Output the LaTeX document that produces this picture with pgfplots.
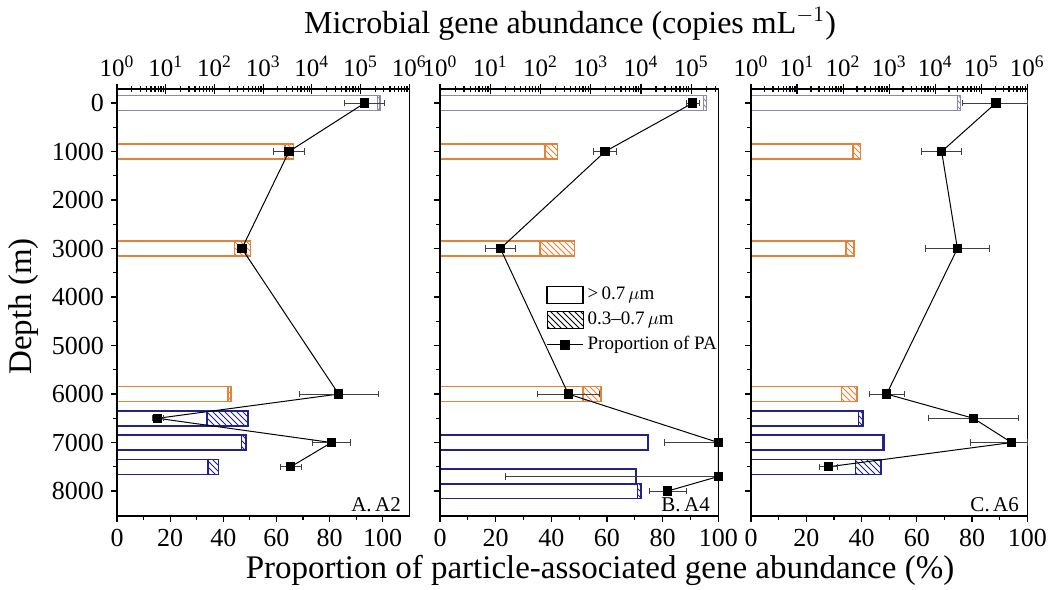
\documentclass[border=0pt]{standalone}
\usepackage{fontspec}
\setmainfont{Liberation Serif}
\usepackage{pgfplots}
\pgfplotsset{compat=1.18}
\usetikzlibrary{patterns}
\definecolor{bgray}{RGB}{140,140,160}
\definecolor{borange}{RGB}{224,132,60}
\definecolor{bnavy}{RGB}{35,35,135}

% 1 px of the reference = 0.5pt
\pgfplotsset{
  panel/.style={scale only axis, height=213.5pt, ymin=-290, ymax=8515, y dir=reverse,
    axis line style={line width=0.65pt}, every tick/.style={black, line width=0.6pt}},
  linax/.style={panel, xmin=0, xtick={0,20,...,100}, minor x tick num=1,
    ytick={0,1000,...,8000}, minor y tick num=1, xtick pos=left, ytick pos=left,
    tick align=outside, major tick length=3pt, minor tick length=2pt,
    ticklabel style={font=\fontsize{13}{15}\selectfont},
    /pgf/number format/assume math mode=true,
    /pgf/number format/set thousands separator={}, clip=false},
  logax/.style={panel, xmin=1, axis x line*=top, axis y line=none,
    tick align=center, major tick length=5pt, minor tick length=3pt,
    xtick={1,10,100,1000,10000,100000,1000000},
    xticklabels={10\textsuperscript{0},10\textsuperscript{1},10\textsuperscript{2},10\textsuperscript{3},10\textsuperscript{4},10\textsuperscript{5},10\textsuperscript{6}},
    minor xtick={2,3,4,5,6,7,8,9,
      20,30,40,50,60,70,80,90,
      200,300,400,500,600,700,800,900,
      2000,3000,4000,5000,6000,7000,8000,9000,
      2e4,3e4,4e4,5e4,6e4,7e4,8e4,9e4,
      2e5,3e5,4e5,5e5,6e5,7e5,8e5,9e5},
    ticklabel style={font=\fontsize{12.5}{14}\selectfont, inner xsep=0pt}},
  obar/.style={xbar, bar width=310, bar shift=0pt, line width=0.75pt, draw=#1, fill=white},
  hbar/.style={xbar, bar width=310, bar shift=0pt, line width=0.75pt, draw=#1, pattern=north west lines, pattern color=#1},
  pa/.style={black, line width=0.5pt, mark=square*, mark size=2.1pt,
    error bars/.cd, x dir=both, x explicit,
    error bar style={black!75, line width=0.4pt},
    error mark options={rotate=90, mark size=1.6pt, black!75, line width=0.4pt}},
}

\begin{document}
\begin{tikzpicture}
\path[use as bounding box] (0pt,0pt) rectangle (529.5pt,-294.5pt);

% ---------- A. A2 ----------
\begin{axis}[xmode=log, logax, width=146.15pt, xmax=1000000, at={(58.5pt,-258pt)}, anchor=south west]
\addplot[hbar=bgray] coordinates {(251000,0)};
\addplot[obar=bgray] coordinates {(224000,0)};
\addplot[hbar=borange] coordinates {(4169,1000) (550,3000) (219,6000)};
\addplot[obar=borange] coordinates {(2818,1000) (257,3000) (191,6000)};
\addplot[hbar=bnavy] coordinates {(490,6500) (447,7000) (120,7500)};
\addplot[obar=bnavy] coordinates {(71,6500) (363,7000) (74,7500)};
\end{axis}
\begin{axis}[linax, width=146.15pt, xmax=110, at={(58.5pt,-258pt)}, anchor=south west,
  ylabel={Depth (m)}, ylabel style={font=\fontsize{16.5}{18}\selectfont, xshift=-2pt}]
\addplot[pa] coordinates {
  (93.2,0) +- (7.5,0)
  (64.7,1000) +- (5.8,0)
  (47.0,3000) +- (1.5,0)
  (83.4,6000) +- (14.8,0)
  (15.3,6500) +- (2,0)
  (80.7,7000) +- (7,0)
  (65.4,7500) +- (4,0)
};
\node[anchor=south east, font=\fontsize{10.5}{12}\selectfont, inner sep=1pt] at (axis description cs:1,0) [xshift=-3pt,yshift=1pt] {A.\,A2};
\end{axis}

% ---------- B. A4 ----------
\begin{axis}[xmode=log, logax, width=139.15pt, xmax=347000, at={(220pt,-258pt)}, anchor=south west]
\addplot[hbar=bgray] coordinates {(204000,0)};
\addplot[obar=bgray] coordinates {(174000,0)};
\addplot[hbar=borange] coordinates {(219,1000) (479,3000) (1585,6000)};
\addplot[obar=borange] coordinates {(123,1000) (98,3000) (708,6000)};
\addplot[hbar=bnavy] coordinates {(13800,7000) (7940,7700) (10000,8000)};
\addplot[obar=bnavy] coordinates {(13800,7000) (7940,7700) (8510,8000)};
\end{axis}
\begin{axis}[linax, width=139.15pt, xmax=100, at={(220pt,-258pt)}, anchor=south west,
  yticklabels={},
  legend style={at={(0.381,0.546)}, anchor=north west, draw=none, fill=none,
    font=\fontsize{9.5}{11.5}\selectfont, inner sep=0pt, row sep=0.5pt},
  legend cell align=left]
\addlegendimage{legend image code/.code={\draw[black,line width=0.6pt,fill=white] (0pt,-4.2pt) rectangle (18pt,4.2pt);}}
\addlegendentry{>\,0.7\,$\mu$m}
\addlegendimage{legend image code/.code={\fill[pattern=north west lines] (0pt,-4.2pt) rectangle (18pt,4.2pt);}}
\addlegendentry{0.3--0.7\,$\mu$m}
\addlegendimage{legend image code/.code={\draw[black,line width=0.5pt] (0pt,0pt) -- (18pt,0pt); \fill[black] (6.9pt,-2.1pt) rectangle (11.1pt,2.1pt);}}
\addlegendentry{Proportion of PA}
\addplot[pa] coordinates {
  (90.8,0) +- (2.4,0)
  (59.3,1000) +- (4.2,0)
  (21.7,3000) +- (5.5,0)
  (46.1,6000) +- (11,0)
  (100,7000) += (0,0) -= (19.5,0)
  (100,7700) += (0,0) -= (76.6,0)
  (81.8,8000) +- (6.6,0)
};
\node[anchor=south east, font=\fontsize{10.5}{12}\selectfont, inner sep=1pt] at (axis description cs:1,0) [xshift=-3pt,yshift=1pt] {B.\,A4};
\end{axis}

% ---------- C. A6 ----------
\begin{axis}[xmode=log, logax, width=138.15pt, xmax=1000000, at={(375.5pt,-258pt)}, anchor=south west]
\addplot[hbar=bgray] coordinates {(35500,0)};
\addplot[obar=bgray] coordinates {(30200,0)};
\addplot[hbar=borange] coordinates {(240,1000) (174,3000) (200,6000)};
\addplot[obar=borange] coordinates {(162,1000) (115,3000) (93,6000)};
\addplot[hbar=bnavy] coordinates {(269,6500) (794,7000) (661,7500)};
\addplot[obar=bnavy] coordinates {(214,6500) (741,7000) (186,7500)};
\end{axis}
\begin{axis}[linax, width=138.15pt, xmax=100, at={(375.5pt,-258pt)}, anchor=south west,
  yticklabels={}]
\addplot[pa] coordinates {
  (88.6,0) += (11.4,0) -= (12,0)
  (69.0,1000) +- (7.2,0)
  (74.7,3000) +- (11.6,0)
  (49.1,6000) +- (6.3,0)
  (80.5,6500) +- (16.3,0)
  (94.3,7000) += (5.7,0) -= (15,0)
  (28.0,7500) +- (3.1,0)
};
\node[anchor=south east, font=\fontsize{10.5}{12}\selectfont, inner sep=1pt] at (axis description cs:1,0) [xshift=-3pt,yshift=1pt] {C.\,A6};
\end{axis}

\node[font=\fontsize{16}{18}\selectfont] at (285pt,-12pt) {Microbial gene abundance (copies mL$^{-1}$)};
\node[font=\fontsize{16.5}{18}\selectfont] at (300pt,-285pt) {Proportion of particle-associated gene abundance (\%)};
\end{tikzpicture}
\end{document}
